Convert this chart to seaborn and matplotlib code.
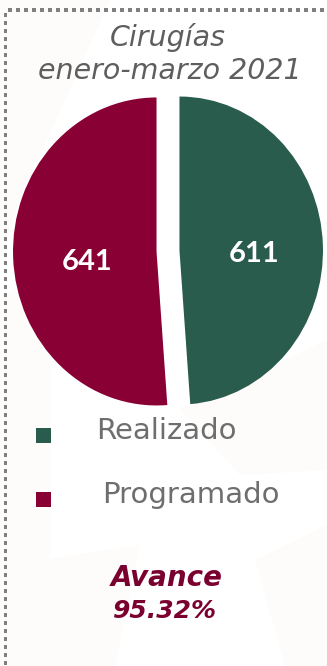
import numpy as np
import matplotlib
matplotlib.use("Agg")
import matplotlib.pyplot as plt
from matplotlib.patches import Rectangle, Polygon
import seaborn as sns

sns.set_theme(style="white")

# Data
categories = ["Realizado", "Programado"]
values = [611, 641]
palette = ["#295C4C", "#880034"]
title_lines = ["Cirugías", "enero-marzo 2021"]
avance_label = "Avance"
avance_pct = 95.32

W, H = 327, 666
fig = plt.figure(figsize=(W / 100, H / 100), dpi=100)
fig.patch.set_facecolor("#FFFFFF")

# Background canvas in pixel coordinates
bg = fig.add_axes([0, 0, 1, 1])
bg.set_xlim(0, W)
bg.set_ylim(H, 0)
bg.axis("off")

# faint watermark shapes
wm = "#FDFCFA"
for pts in [
    [(0, 0), (110, 0), (20, 200), (0, 260)],
    [(0, 300), (50, 260), (50, 666), (0, 666)],
    [(180, 410), (327, 340), (327, 470), (240, 475)],
    [(40, 560), (140, 545), (115, 666), (30, 666)],
    [(255, 560), (327, 525), (327, 666), (285, 666)],
]:
    bg.add_patch(Polygon(pts, closed=True, facecolor=wm, edgecolor="none", zorder=0))

# dotted frame on the top and left
dot = "#7F7F7F"
for x in np.arange(8, W, 8):
    bg.add_patch(Rectangle((x, 8), 3.6, 3.6, facecolor=dot, edgecolor="none", zorder=1))
for y in np.arange(13, H, 8):
    bg.add_patch(Rectangle((3.5, y), 3.6, 3.6, facecolor=dot, edgecolor="none", zorder=1))

# Title
title_font = dict(family=["DejaVu Sans"], style="oblique", weight="normal",
                  color="#5E5E5E", fontsize=20.5, ha="center", va="center")
bg.text(168, 38, title_lines[0], **title_font, zorder=3)
bg.text(170, 71, title_lines[1], **title_font, zorder=3)

# Pie chart
cx, cy = 168, 251
rx, ry = 143.5, 154
aw, ah = 320, 330
ax = fig.add_axes([(cx - aw / 2) / W, 1 - (cy + ah / 2) / H, aw / W, ah / H])
ax.set_facecolor("none")
wedges, texts = ax.pie(
    values,
    colors=palette,
    startangle=90,
    counterclock=False,
    explode=[0.08, 0.08],
    labels=[str(v) for v in values],
    labeldistance=0.52,
    textprops=dict(color="white", fontsize=21, weight="bold",
                   family=["Lato", "DejaVu Sans"], ha="center", va="center"),
    wedgeprops=dict(linewidth=0),
)
ax.set_aspect("auto")
ax.set_xlim(-aw / (2 * rx), aw / (2 * rx))
ax.set_ylim(-ah / (2 * ry), ah / (2 * ry))
ax.axis("off")
# nudge the value labels slightly (pixel offsets converted to data units)
for t, (dx, dy) in zip(texts, [(0, -6), (5, -8)]):
    x, y = t.get_position()
    t.set_position((x + dx / rx, y + dy / ry))

# Legend
leg_font = dict(family=["DejaVu Sans"], color="#6E6E6E", fontsize=21,
                ha="left", va="center")
for (label, col, ly, tx) in [(categories[0], palette[0], 436, 96),
                             (categories[1], palette[1], 500, 102)]:
    bg.add_patch(Rectangle((36, ly - 8), 15, 15, facecolor=col, edgecolor="none", zorder=3))
    bg.text(tx, ly - 5, label, **leg_font, zorder=3)

# Progress text
av_font = dict(family=["DejaVu Sans"], style="oblique", weight="bold",
               color="#7A0030", ha="center", va="center")
bg.text(167, 578, avance_label, fontsize=20, **av_font, zorder=3)
bg.text(165, 611, f"{avance_pct:.2f}%", fontsize=18, **av_font, zorder=3)

fig.savefig("out.png", dpi=100, facecolor=fig.get_facecolor())
